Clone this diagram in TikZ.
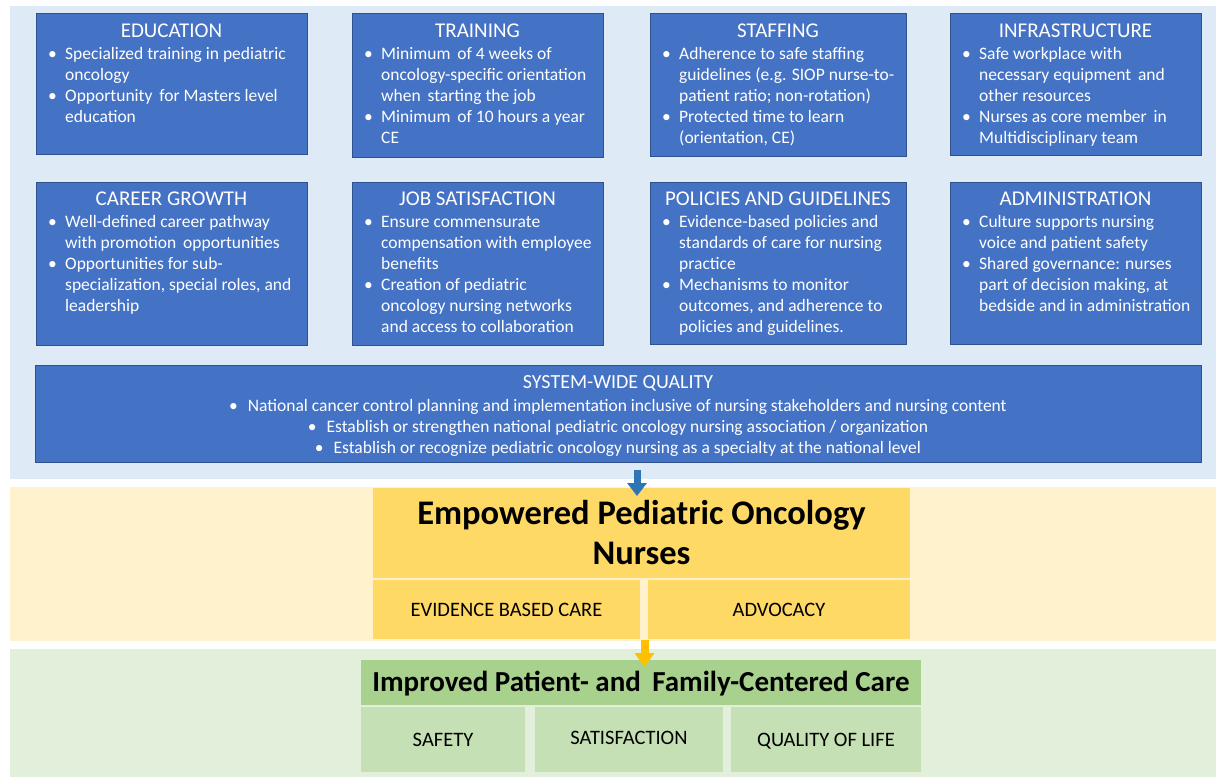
\documentclass[tikz,border=0pt]{standalone}
\usepackage{fontspec}
\setmainfont{Carlito}
\usetikzlibrary{arrows.meta,calc}
\definecolor{boxblue}{HTML}{4472C4}
\definecolor{boxedge}{HTML}{2F528F}
\definecolor{panelblue}{HTML}{DEEBF7}
\definecolor{panelyellow}{HTML}{FFF2CC}
\definecolor{boxyellow}{HTML}{FFD966}
\definecolor{panelgreen}{HTML}{E2EFDA}
\definecolor{titlegreen}{HTML}{A9D18E}
\definecolor{subgreen}{HTML}{C5E0B4}
\definecolor{arrowblue}{HTML}{2E75B6}
\definecolor{arroworange}{HTML}{FFC000}
\tikzset{
  bluebox/.style={draw=boxedge, fill=boxblue, line width=0.8pt, inner sep=0pt, outer sep=0pt, anchor=north west},
  btitle/.style={anchor=base, inner sep=0pt, text=white, font=\fontsize{21}{24}\selectfont},
  bbody/.style={anchor=base west, inner sep=0pt, text=white, font=\fontsize{17.5}{21}\selectfont},
  ybox/.style={fill=boxyellow, inner sep=0pt, outer sep=0pt, anchor=north west},
  gtitle/.style={fill=titlegreen, inner sep=0pt, outer sep=0pt, anchor=north west},
  gsub/.style={fill=subgreen, inner sep=0pt, outer sep=0pt, anchor=north west},
  caps/.style={text height=13.3pt, text depth=0pt, font=\fontsize{20.5}{24}\selectfont},
  barrow/.style={draw=arrowblue, line width=7pt, -{Triangle[width=19pt,length=13pt]}},
  oarrow/.style={draw=arroworange, line width=8pt, -{Triangle[width=19pt,length=14pt]}},
}
\newcommand{\bl}{\textbullet}
\begin{document}
\begin{tikzpicture}[x=1pt,y=-1pt]
\useasboundingbox (0,0) rectangle (1216,777);
\fill[white] (0,0) rectangle (1216,777);
% panels
\fill[panelblue] (10,6) rectangle (1216,479);
\fill[panelyellow] (10,487) rectangle (1216,641);
\fill[panelgreen] (10,649) rectangle (1216,777);

% Row 1
\node[bluebox, minimum width=271pt, minimum height=141pt] (edu) at (36,13) {};
\node[btitle] (eduT) at ($(edu.north)+(0,24.5)$) {EDUCATION};
\node[bbody] (eduB) at ($(edu.north west)+(12,46.5)$) {\begin{tabular}[t]{@{}p{17pt}@{}l@{}}
\bl & Specialized training in pediatric\\
 & oncology\\
\bl & Opportunity\, for Masters level\\
 & education\end{tabular}};

\node[bluebox, minimum width=251pt, minimum height=144pt] (tra) at (352,13) {};
\node[btitle] (traT) at ($(tra.north)+(0,24.5)$) {TRAINING};
\node[bbody] (traB) at ($(tra.north west)+(12,46.5)$) {\begin{tabular}[t]{@{}p{17pt}@{}l@{}}
\bl & Minimum\, of 4 weeks of\\
 & oncology-specific orientation\\
 & when\, starting the job\\
\bl & Minimum\, of 10 hours a year\\
 & CE\end{tabular}};

\node[bluebox, minimum width=256pt, minimum height=143pt] (sta) at (650,13) {};
\node[btitle] (staT) at ($(sta.north)+(0,24.5)$) {STAFFING};
\node[bbody] (staB) at ($(sta.north west)+(12,46.5)$) {\begin{tabular}[t]{@{}p{17pt}@{}l@{}}
\bl & Adherence to safe staffing\\
 & guidelines (e.g. SIOP nurse-to-\\
 & patient ratio; non-rotation)\\
\bl & Protected time to learn\\
 & (orientation, CE)\end{tabular}};

\node[bluebox, minimum width=251pt, minimum height=142pt] (inf) at (950,13) {};
\node[btitle] (infT) at ($(inf.north)+(0,24.5)$) {INFRASTRUCTURE};
\node[bbody] (infB) at ($(inf.north west)+(12,46.5)$) {\begin{tabular}[t]{@{}p{17pt}@{}l@{}}
\bl & Safe workplace with\\
 & necessary equipment\, and\\
 & other resources\\
\bl & Nurses as core member\, in\\
 & Multidisciplinary team\end{tabular}};

% Row 2
\node[bluebox, minimum width=271pt, minimum height=163pt] (car) at (36,182) {};
\node[btitle] (carT) at ($(car.north)+(0,23.5)$) {CAREER GROWTH};
\node[bbody] (carB) at ($(car.north west)+(12,45.5)$) {\begin{tabular}[t]{@{}p{17pt}@{}l@{}}
\bl & Well-defined career pathway\\
 & with promotion\, opportunities\\
\bl & Opportunities for sub-\\
 & specialization, special roles, and\\
 & leadership\end{tabular}};

\node[bluebox, minimum width=251pt, minimum height=163pt] (job) at (352,182) {};
\node[btitle] (jobT) at ($(job.north)+(0,23.5)$) {JOB SATISFACTION};
\node[bbody] (jobB) at ($(job.north west)+(12,45.5)$) {\begin{tabular}[t]{@{}p{17pt}@{}l@{}}
\bl & Ensure commensurate\\
 & compensation with employee\\
 & benefits\\
\bl & Creation of pediatric\\
 & oncology nursing networks\\
 & and access to collaboration\end{tabular}};

\node[bluebox, minimum width=256pt, minimum height=162pt] (pol) at (650,182) {};
\node[btitle] (polT) at ($(pol.north)+(0,23.5)$) {POLICIES AND GUIDELINES};
\node[bbody] (polB) at ($(pol.north west)+(12,45.5)$) {\begin{tabular}[t]{@{}p{17pt}@{}l@{}}
\bl & Evidence-based policies and\\
 & standards of care for nursing\\
 & practice\\
\bl & Mechanisms to monitor\\
 & outcomes, and adherence to\\
 & policies and guidelines.\end{tabular}};

\node[bluebox, minimum width=251pt, minimum height=162pt] (adm) at (950,182) {};
\node[btitle] (admT) at ($(adm.north)+(0,23.5)$) {ADMINISTRATION};
\node[bbody] (admB) at ($(adm.north west)+(12,45.5)$) {\begin{tabular}[t]{@{}p{17pt}@{}l@{}}
\bl & Culture supports nursing\\
 & voice and patient safety\\
\bl & Shared governance: nurses\\
 & part of decision making, at\\
 & bedside and in administration\end{tabular}};

% System-wide
\node[bluebox, minimum width=1166pt, minimum height=97pt] (sys) at (35,365) {};
\node[btitle, font=\fontsize{20}{24}\selectfont] (sysT) at ($(sys.north)+(0,23)$) {SYSTEM-WIDE QUALITY};
\node[bbody, anchor=base] (sysB) at ($(sys.north)+(0,46.5)$) {\begin{tabular}[t]{@{}c@{}}
\bl\hspace{10pt}National cancer control planning and implementation inclusive of nursing stakeholders and nursing content\\
\bl\hspace{10pt}Establish or strengthen national pediatric oncology nursing association / organization\\
\bl\hspace{10pt}Establish or recognize pediatric oncology nursing as a specialty at the national level\end{tabular}};

% Yellow
\node[ybox, minimum width=537pt, minimum height=90pt, align=center, font=\bfseries\fontsize{34.5}{40}\selectfont] (emp) at (373,488) {Empowered Pediatric Oncology\\Nurses};
\node[ybox, caps, minimum width=267pt, minimum height=59pt] (ebc) at (373,580) {EVIDENCE BASED CARE};
\node[ybox, caps, minimum width=262pt, minimum height=59pt] (adv) at (648,580) {ADVOCACY};

% Green
\node[gtitle, minimum width=560pt, minimum height=45pt, text height=18.7pt, text depth=0pt, font=\bfseries\fontsize{29}{32}\selectfont] (imp) at (361,660) {Improved Patient- and\, Family-Centered Care};
\node[gsub, caps, minimum width=164pt, minimum height=65pt] (saf) at (361,707) {SAFETY};
\node[gsub, caps, minimum width=188pt, minimum height=65pt] (sat) at (535,707) {\raisebox{2pt}{SATISFACTION}};
\node[gsub, caps, minimum width=190pt, minimum height=65pt] (qol) at (731,707) {QUALITY OF LIFE};

% Arrows
\draw[barrow] ([xshift=19pt,yshift=-8pt]sys.south) -- ([xshift=-4.5pt,yshift=-8pt]emp.north);
\draw[oarrow] ([xshift=4.5pt,yshift=-1pt]ebc.south east) -- ([xshift=3.5pt,yshift=-7pt]imp.north);
\end{tikzpicture}
\end{document}
